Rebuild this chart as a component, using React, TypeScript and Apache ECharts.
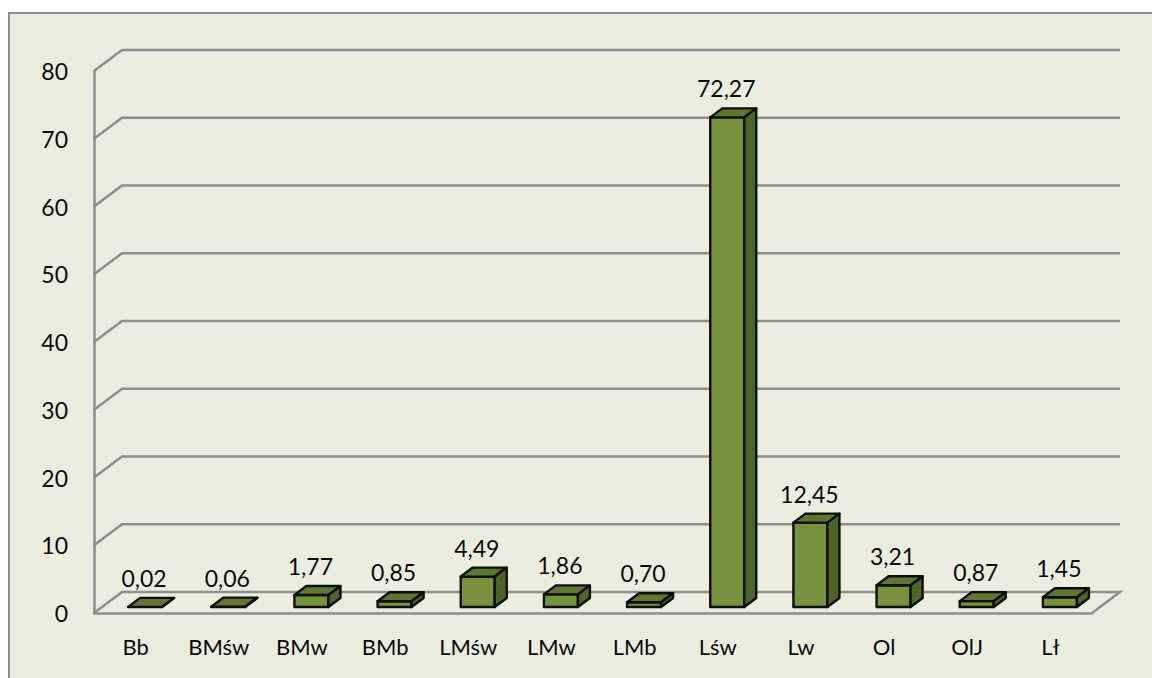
import React, { useEffect, useRef } from "react";
import * as echarts from "echarts";

const categories = ["Bb", "BMśw", "BMw", "BMb", "LMśw", "LMw", "LMb", "Lśw", "Lw", "Ol", "OlJ", "Lł"];
const values = [0.02, 0.06, 1.77, 0.85, 4.49, 1.86, 0.7, 72.27, 12.45, 3.21, 0.87, 1.45];
const yTicks = [0, 10, 20, 30, 40, 50, 60, 70, 80];

const FONT = "Lato, Carlito, 'Open Sans', sans-serif";
const GREY = "#8e8e8e";
const WALL_DX = 28;
const WALL_DY = 21;
const BAR_W = 34;
const BAR_DX = 12;
const BAR_DY = 9;
const BAR_SHIFT_X = 9.5;
const BAR_SHIFT_Y = 6;

export default function App() {
  const ref = useRef<HTMLDivElement>(null);
  useEffect(() => {
    const chart = echarts.init(ref.current!, undefined, { renderer: "svg" });
    chart.setOption({
      animation: false,
      backgroundColor: "#ffffff",
      textStyle: { fontFamily: FONT },
      graphic: [
        {
          type: "rect",
          z: -10,
          silent: true,
          shape: { x: 9, y: 13, width: 1160, height: 680 },
          style: { fill: "#ebeedf", stroke: GREY, lineWidth: 2 },
        },
      ],
      grid: { left: 94, right: 60, top: 71, bottom: 65 },
      xAxis: {
        type: "category",
        data: categories,
        axisLine: { show: true, lineStyle: { color: GREY, width: 2.5 } },
        axisTick: { show: false },
        axisLabel: { color: "#0a0a0a", fontSize: 22, margin: 22, fontFamily: FONT, interval: 0 },
      },
      yAxis: {
        type: "value",
        min: 0,
        max: 80,
        interval: 10,
        splitLine: { show: false },
        axisLine: { show: true, lineStyle: { color: GREY, width: 2.5 } },
        axisTick: { show: false },
        axisLabel: { color: "#0a0a0a", fontSize: 23, margin: 26, fontFamily: FONT },
      },
      series: [
        {
          type: "custom",
          silent: true,
          clip: false,
          z: 1,
          data: yTicks.map((t) => [0, t]),
          encode: { x: 0, y: 1 },
          renderItem: (params: any, api: any) => {
            const cs = params.coordSys;
            const y = api.coord([0, api.value(1)])[1];
            const left = cs.x;
            const right = cs.x + cs.width;
            const pts = [
              [left, y],
              [left + WALL_DX, y - WALL_DY],
              [right + WALL_DX, y - WALL_DY],
            ];
            if (api.value(1) === 0) pts.push([right, y]);
            return {
              type: "polyline",
              shape: { points: pts },
              style: { stroke: GREY, lineWidth: 2.5, fill: "none" },
            };
          },
        },
        {
          type: "custom",
          silent: true,
          clip: false,
          z: 3,
          data: values.map((v, i) => [i, v]),
          encode: { x: 0, y: 1 },
          renderItem: (_: any, api: any) => {
            const v = api.value(1);
            const top = api.coord([api.value(0), v]);
            const base = api.coord([api.value(0), 0]);
            const x0 = top[0] + BAR_SHIFT_X - BAR_W / 2;
            const x1 = x0 + BAR_W;
            const yT = top[1] - BAR_SHIFT_Y;
            const yB = base[1] - BAR_SHIFT_Y;
            const stroke = { stroke: "#0c0f06", lineWidth: 2.4, lineJoin: "round" };
            return {
              type: "group",
              children: [
                {
                  type: "polygon",
                  shape: { points: [[x0, yB], [x1, yB], [x1, yT], [x0, yT]] },
                  style: { fill: "#76923c", ...stroke },
                },
                {
                  type: "polygon",
                  shape: { points: [[x0, yT], [x1, yT], [x1 + BAR_DX, yT - BAR_DY], [x0 + BAR_DX, yT - BAR_DY]] },
                  style: { fill: "#5f7530", ...stroke },
                },
                {
                  type: "polygon",
                  shape: { points: [[x1, yB], [x1 + BAR_DX, yB - BAR_DY], [x1 + BAR_DX, yT - BAR_DY], [x1, yT]] },
                  style: { fill: "#4f6228", ...stroke },
                },
                {
                  type: "text",
                  style: {
                    x: top[0] + BAR_SHIFT_X - 1,
                    y: yT - BAR_DY - 20,
                    text: v.toFixed(2).replace(".", ","),
                    fill: "#0a0a0a",
                    font: `23px ${FONT}`,
                    align: "center",
                    verticalAlign: "middle",
                  },
                },
              ],
            };
          },
        },
      ],
    });
    return () => chart.dispose();
  }, []);
  return <div ref={ref} style={{ position: "fixed", left: 0, top: 0, width: 1152, height: 678 }} />;
}
